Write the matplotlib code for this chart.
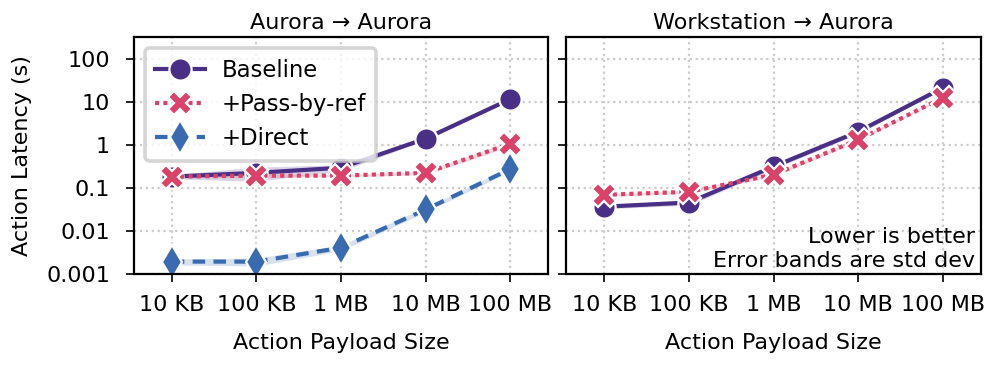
import matplotlib
matplotlib.use("Agg")
import matplotlib.pyplot as plt
import numpy as np

sizes = ["10 KB", "100 KB", "1 MB", "10 MB", "100 MB"]
panels = ["Aurora \u2192 Aurora", "Workstation \u2192 Aurora"]
series = ["Baseline", "+Pass-by-ref", "+Direct"]

# Aurora -> Aurora
aa_baseline = [0.18, 0.22, 0.29, 1.38, 11.5]
aa_baseline_std = [0.02, 0.08, 0.05, 0.1, 0.8]
aa_passref = [0.18, 0.19, 0.19, 0.22, 1.05]
aa_passref_std = [0.01, 0.02, 0.01, 0.02, 0.15]
aa_direct = [0.0019, 0.0019, 0.004, 0.031, 0.27]
aa_direct_std = [0.0003, 0.0004, 0.0006, 0.004, 0.03]

# Workstation -> Aurora
wa_baseline = [0.036, 0.045, 0.31, 2.0, 21.0]
wa_baseline_std = [0.004, 0.006, 0.04, 0.2, 1.5]
wa_passref = [0.068, 0.08, 0.2, 1.3, 12.4]
wa_passref_std = [0.005, 0.006, 0.02, 0.1, 0.8]

colors = {"Baseline": "#4a2f86", "+Pass-by-ref": "#d9436a", "+Direct": "#3a6bb1"}
styles = {"Baseline": dict(ls="-", marker="o", ms=8),
          "+Pass-by-ref": dict(ls=(0, (1, 1)), marker="X", ms=8.5),
          "+Direct": dict(ls=(0, (3, 2)), marker="d", ms=8.5)}

data = [
    {"Baseline": (aa_baseline, aa_baseline_std),
     "+Pass-by-ref": (aa_passref, aa_passref_std),
     "+Direct": (aa_direct, aa_direct_std)},
    {"Baseline": (wa_baseline, wa_baseline_std),
     "+Pass-by-ref": (wa_passref, wa_passref_std)},
]

plt.rcParams["font.family"] = ["DejaVu Sans"]
fig, axes = plt.subplots(1, 2, figsize=(4.99, 1.845), dpi=200, sharey=True)
fig.subplots_adjust(left=0.134, right=0.983, top=0.9, bottom=0.257, wspace=0.043)

x = np.arange(len(sizes))
for ax, title, d in zip(axes, panels, data):
    for name in series:
        if name not in d:
            continue
        vals, std = d[name]
        vals = np.array(vals); std = np.array(std)
        c = colors[name]
        st = styles[name]
        ax.fill_between(x, vals - std, vals + std, color=c, alpha=0.2, lw=0)
        ax.plot(x, vals, color=c, ls=st["ls"], lw=1.5, marker=st["marker"],
                ms=st["ms"], mec="white", mew=0.8, label=name)
    ax.set_yscale("log")
    ax.set_ylim(0.00097, 320)
    ax.set_xlim(-0.45, 4.45)
    ax.set_xticks(x)
    ax.set_xticklabels(sizes, fontsize=8)
    ax.set_title(title, fontsize=8, pad=3)
    ax.set_xlabel("Action Payload Size", fontsize=8, labelpad=6.5)
    ax.grid(True, ls=":", color="#cccccc", lw=0.8)
    ax.set_axisbelow(True)
    ax.tick_params(axis="both", length=3, width=0.6, labelsize=8, pad=4.5)
    ax.yaxis.set_minor_locator(matplotlib.ticker.NullLocator())
    for sp in ax.spines.values():
        sp.set_linewidth(0.8)

axes[0].set_yticks([0.001, 0.01, 0.1, 1, 10, 100])
axes[0].set_yticklabels(["0.001", "0.01", "0.1", "1", "10", "100"])
axes[0].tick_params(axis="y", pad=5.5)
axes[0].set_ylabel("Action Latency (s)", fontsize=8, labelpad=5)
axes[1].tick_params(axis="y", labelleft=False)

leg = axes[0].legend(loc="upper left", fontsize=8.2, frameon=True, borderpad=0.45,
                     handlelength=2.2, labelspacing=0.5, framealpha=0.8,
                     edgecolor="#cccccc", fancybox=True, borderaxespad=0.5,
                     handletextpad=0.7)
leg.get_frame().set_linewidth(1.3)

axes[1].text(0.985, 0.015, "Lower is better\nError bands are std dev",
             transform=axes[1].transAxes, ha="right", va="bottom", fontsize=8,
             linespacing=1.2)

fig.savefig("out.png", dpi=200)
